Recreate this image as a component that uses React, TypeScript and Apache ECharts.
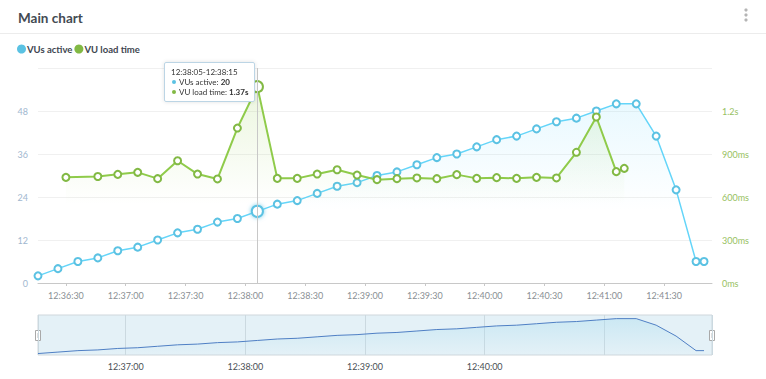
import React, { useEffect, useRef } from "react";
import * as echarts from "echarts";

const t = (h: number, m: number, s: number) => new Date(2024, 0, 1, h, m, s).getTime();

// VUs active: one point every 10 s from 12:36:16, plus a final partial one
const vuStart = t(12, 36, 16);
const vuValues = [2, 4, 6, 7, 9, 10, 12, 14, 15, 17, 18, 20, 22, 23, 25, 27, 28, 30, 31, 33, 35, 36, 38, 40, 41, 43, 45, 46, 48, 50, 50, 41, 26, 6];
const vuLastTime = t(12, 41, 50);
const vuLastValue = 6;

// VU load time (ms)
const loadFirstTime = t(12, 36, 30);
const loadFirstValue = 737;
const loadStart = t(12, 36, 46);
const loadValues = [743, 758, 772, 728, 853, 760, 726, 1081, 1370, 730, 730, 760, 790, 753, 721, 728, 733, 728, 756, 730, 735, 730, 737, 733, 912, 1158, 777];
const loadLastTime = t(12, 41, 10);
const loadLastValue = 800;

const xMin = t(12, 36, 16);
const xMax = t(12, 41, 54);
const leftTicks = [0, 12, 24, 36, 48];
const rightTicks = ["0ms", "300ms", "600ms", "900ms", "1.2s"];

const vuData: [number, number][] = [
  ...vuValues.map((v, i) => [vuStart + i * 10000, v] as [number, number]),
  [vuLastTime, vuLastValue],
];
const loadData: [number, number][] = [
  [loadFirstTime, loadFirstValue],
  ...loadValues.map((v, i) => [loadStart + i * 10000, v] as [number, number]),
  [loadLastTime, loadLastValue],
];

const BLUE = "#5bc2e3";
const GREEN = "#82b944";
const FONT = "Lato, 'Open Sans', sans-serif";

const pad = (n: number) => String(n).padStart(2, "0");
const hms = (ms: number) => {
  const d = new Date(ms);
  return `${pad(d.getHours())}:${pad(d.getMinutes())}:${pad(d.getSeconds())}`;
};

export default function App() {
  const ref = useRef<HTMLDivElement>(null);
  useEffect(() => {
    if (!ref.current) return;
    const chart = echarts.init(ref.current, undefined, { renderer: "svg" });
    chart.setOption({
      animation: false,
      textStyle: { fontFamily: FONT },
      title: {
        text: "Main chart",
        left: 13,
        top: 6,
        textStyle: { fontSize: 13.5, fontWeight: 700, color: "#434a52", fontFamily: FONT },
      },
      legend: {
        left: 12,
        top: 39,
        icon: "circle",
        itemWidth: 9,
        itemHeight: 9,
        itemGap: 2,
        data: ["VUs active", "VU load time"],
        textStyle: { fontSize: 9.5, fontWeight: 700, color: "#3e464f", fontFamily: FONT, padding: [0, 0, 0, -4] },
      },
      graphic: [
        { type: "line", shape: { x1: 0, y1: 33.5, x2: 766, y2: 33.5 }, style: { stroke: "#ececec", lineWidth: 1 } },
        { type: "circle", shape: { cx: 746, cy: 10, r: 1.6 }, style: { fill: "#b5b5b5" } },
        { type: "circle", shape: { cx: 746, cy: 15, r: 1.6 }, style: { fill: "#b5b5b5" } },
        { type: "circle", shape: { cx: 746, cy: 20, r: 1.6 }, style: { fill: "#b5b5b5" } },
        { type: "rect", shape: { x: 35.5, y: 330.5, width: 5, height: 10 }, style: { fill: "#fff", stroke: "#a9a9a9", lineWidth: 1 } },
        { type: "line", shape: { x1: 38, y1: 333, x2: 38, y2: 338 }, style: { stroke: "#bbb", lineWidth: 1 } },
        { type: "rect", shape: { x: 709.5, y: 330.5, width: 5, height: 10 }, style: { fill: "#fff", stroke: "#a9a9a9", lineWidth: 1 } },
        { type: "line", shape: { x1: 712, y1: 333, x2: 712, y2: 338 }, style: { stroke: "#bbb", lineWidth: 1 } },
      ],
      tooltip: {
        trigger: "axis",
        alwaysShowContent: true,
        transitionDuration: 0,
        position: [164, 62],
        backgroundColor: "#fff",
        borderColor: "#bcd5e5",
        borderWidth: 1,
        padding: [4, 6],
        extraCssText: "box-shadow: 0 0 4px rgba(0,0,0,0.12); border-radius: 2px;",
        axisPointer: { type: "line", lineStyle: { color: "#c8c8c8", width: 1, type: "solid" } },
        formatter: (params: any[]) => {
          const p = params.filter((x) => x.seriesIndex < 2);
          if (!p.length) return "";
          const start = p[0].value[0] - 1000;
          const dot = (c: string) =>
            `<span style="display:inline-block;width:4px;height:4px;border-radius:2px;background:${c};margin:0 3px 1px 1px;vertical-align:middle"></span>`;
          let html = `<div style="font-family:${FONT};font-size:8px;line-height:10px;color:#333">${hms(start)}-${hms(start + 10000)}</div>`;
          p.forEach((x) => {
            const v = x.value[1];
            const txt = x.seriesIndex === 0 ? String(v) : v >= 1000 ? (v / 1000).toFixed(2) + "s" : v + "ms";
            html += `<div style="font-family:${FONT};font-size:8px;line-height:10px;color:#333">${dot(x.color)}${x.seriesName}: <b>${txt}</b></div>`;
          });
          return html;
        },
      },
      grid: [
        { left: 38, right: 54, top: 68, height: 215 },
        { left: 38, right: 54, top: 315, height: 40, show: true, backgroundColor: "#e4f1f7", borderColor: "#cfd7dc", borderWidth: 1 },
      ],
      xAxis: [
        {
          type: "time",
          gridIndex: 0,
          min: xMin,
          max: xMax,
          minInterval: 31000,
          maxInterval: 31000,
          axisLine: { lineStyle: { color: "#c8c8c8" } },
          axisTick: { show: true, length: 3, lineStyle: { color: "#c8c8c8" } },
          splitLine: { show: false },
          axisLabel: { formatter: "{HH}:{mm}:{ss}", fontSize: 9, color: "#8a8f94", margin: 8, fontFamily: FONT, showMinLabel: false, showMaxLabel: false },
        },
        {
          type: "time",
          gridIndex: 1,
          min: xMin,
          max: xMax,
          minInterval: 60000,
          maxInterval: 60000,
          axisLine: { show: false },
          axisTick: { show: false },
          splitLine: { show: true, lineStyle: { color: "#cbd9e0" } },
          axisLabel: {
            fontSize: 9,
            color: "#4a4f55",
            margin: 7,
            fontFamily: FONT,
            showMinLabel: false,
            showMaxLabel: false,
            formatter: (v: number) => {
              const d = new Date(v);
              return d.getMinutes() >= 41 ? "" : hms(v);
            },
          },
        },
      ],
      yAxis: [
        {
          type: "value",
          gridIndex: 0,
          min: 0,
          max: 60,
          interval: 12,
          axisLine: { show: false },
          axisTick: { show: false },
          splitLine: { lineStyle: { color: "#f0f0f0" } },
          axisLabel: {
            fontSize: 9,
            color: "#9fb7cf",
            margin: 10,
            fontFamily: FONT,
            showMaxLabel: false,
            padding: [0, 0, 7, 0],
            formatter: (v: number) => (leftTicks.includes(v) ? String(v) : ""),
          },
        },
        {
          type: "value",
          gridIndex: 0,
          min: 0,
          max: 1500,
          interval: 300,
          position: "right",
          axisLine: { show: false },
          axisTick: { show: false },
          splitLine: { show: false },
          axisLabel: {
            fontSize: 9,
            color: "#97c162",
            margin: 10,
            fontFamily: FONT,
            showMaxLabel: false,
            padding: [0, 0, 7, 0],
            formatter: (v: number) => rightTicks[v / 300] ?? "",
          },
        },
        {
          type: "value",
          gridIndex: 1,
          min: 0,
          max: 55,
          show: false,
        },
      ],
      series: [
        {
          name: "VUs active",
          type: "line",
          xAxisIndex: 0,
          yAxisIndex: 0,
          data: vuData,
          color: BLUE,
          symbol: "emptyCircle",
          symbolSize: 7,
          showAllSymbol: true,
          lineStyle: { width: 1.5, color: BLUE },
          itemStyle: { color: BLUE, borderWidth: 2 },
          emphasis: { scale: 1.6, itemStyle: { shadowBlur: 4, shadowColor: "rgba(91,194,227,0.8)" } },
          areaStyle: {
            color: new echarts.graphic.LinearGradient(0, 0, 0, 1, [
              { offset: 0, color: "rgba(120,200,230,0.25)" },
              { offset: 0.6, color: "rgba(120,200,230,0.0)" },
            ]),
          },
          z: 2,
        },
        {
          name: "VU load time",
          type: "line",
          xAxisIndex: 0,
          yAxisIndex: 1,
          data: loadData,
          color: GREEN,
          symbol: "emptyCircle",
          symbolSize: 7,
          showAllSymbol: true,
          lineStyle: { width: 2, color: GREEN },
          itemStyle: { color: GREEN, borderWidth: 2 },
          emphasis: { scale: 1.6 },
          areaStyle: {
            color: new echarts.graphic.LinearGradient(0, 0, 0, 1, [
              { offset: 0, color: "rgba(140,190,80,0.28)" },
              { offset: 0.6, color: "rgba(140,190,80,0.0)" },
            ]),
          },
          z: 3,
        },
        {
          name: "overview",
          type: "line",
          xAxisIndex: 1,
          yAxisIndex: 2,
          data: vuData,
          silent: true,
          symbol: "none",
          lineStyle: { width: 1, color: "#4f7fc4" },
          areaStyle: {
            color: new echarts.graphic.LinearGradient(0, 0, 0, 1, [
              { offset: 0, color: "rgba(170,220,238,0.6)" },
              { offset: 1, color: "rgba(170,220,238,0.0)" },
            ]),
          },
          tooltip: { show: false },
        },
      ],
    });
    const show = () => chart.dispatchAction({ type: "showTip", seriesIndex: 0, dataIndex: 11 });
    show();
    const timer = setTimeout(show, 0);
    return () => {
      clearTimeout(timer);
      chart.dispose();
    };
  }, []);
  return (
    <div style={{ position: "fixed", left: 0, top: 0, width: 766, height: 379, background: "#fff" }}>
      <div ref={ref} style={{ width: 766, height: 379 }} />
    </div>
  );
}
